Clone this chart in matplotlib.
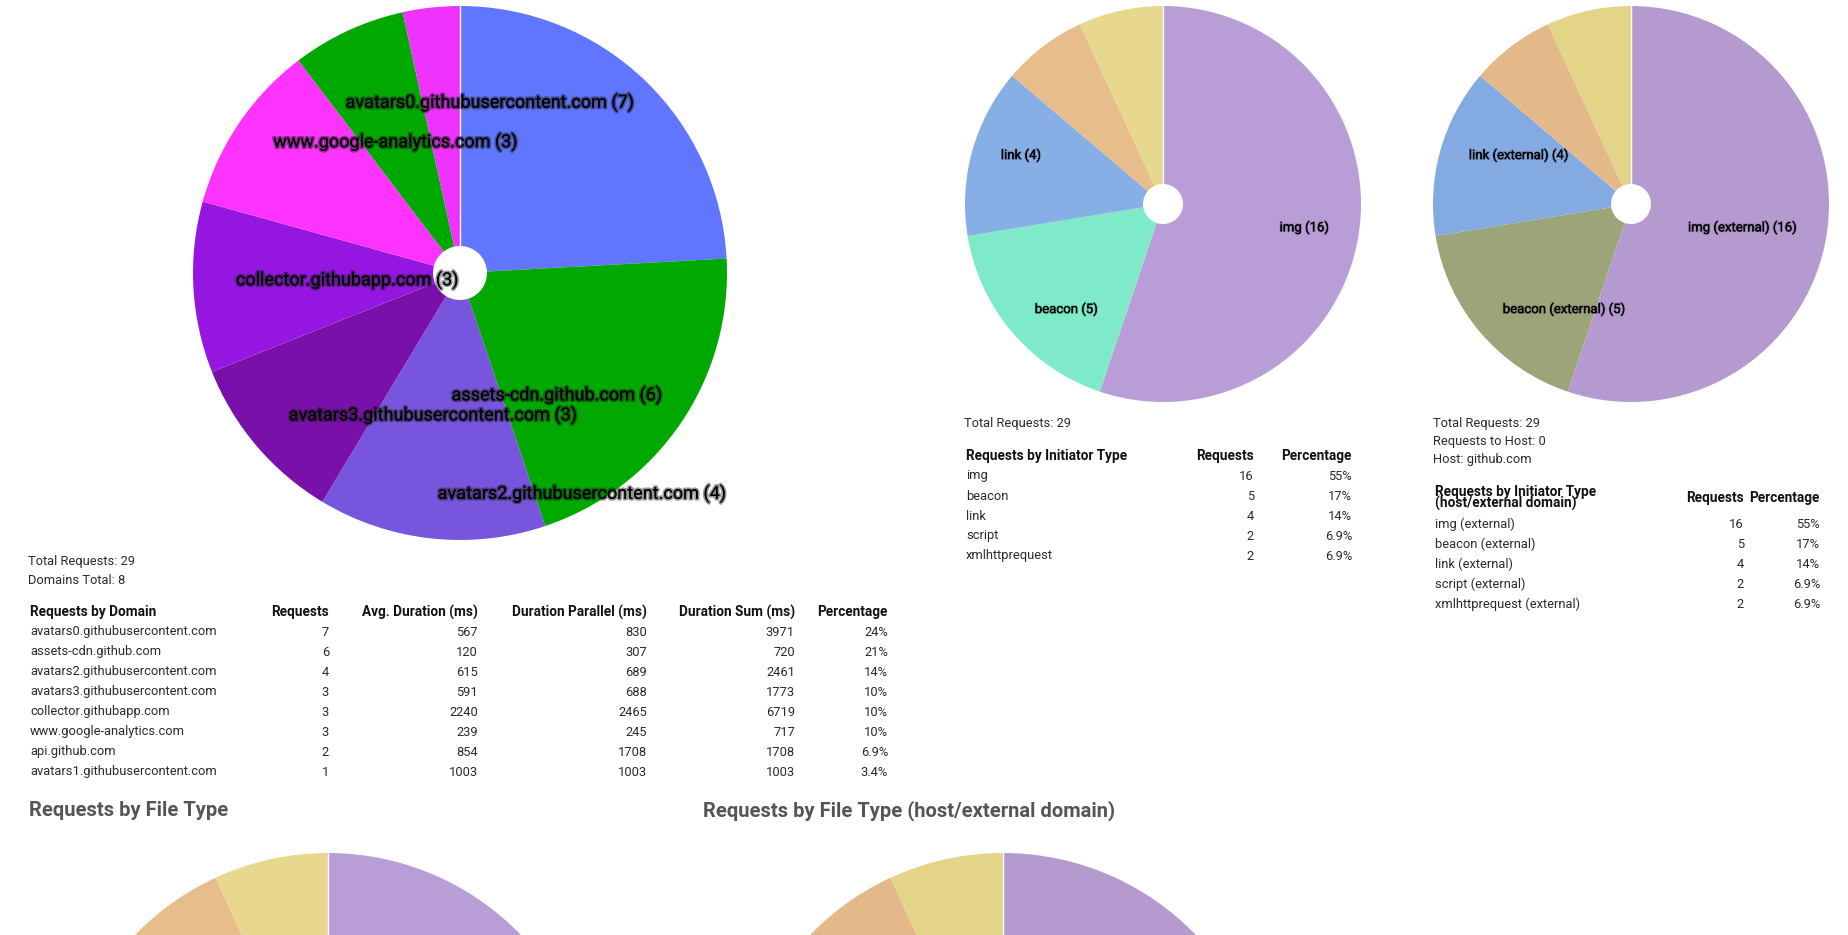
import matplotlib
matplotlib.use("Agg")
import matplotlib.pyplot as plt
import matplotlib.patheffects as pe

W, H = 1849, 935
plt.rcParams['font.family'] = ['Roboto', 'DejaVu Sans']

# requests by domain
domains = ["avatars0.githubusercontent.com", "assets-cdn.github.com",
           "avatars2.githubusercontent.com", "avatars3.githubusercontent.com",
           "collector.githubapp.com", "www.google-analytics.com",
           "api.github.com", "avatars1.githubusercontent.com"]
domain_requests = [7, 6, 4, 3, 3, 3, 2, 1]
domain_avg = [567, 120, 615, 591, 2240, 239, 854, 1003]
domain_parallel = [830, 307, 689, 688, 2465, 245, 1708, 1003]
domain_sum = [3971, 720, 2461, 1773, 6719, 717, 1708, 1003]
domain_colors = ["#6176ff", "#00a800", "#7755dd", "#7a10aa",
                 "#9516e0", "#ff33ff", "#00a800", "#ee33ff"]

# requests by initiator type
initiators = ["img", "beacon", "link", "script", "xmlhttprequest"]
initiator_requests = [16, 5, 4, 2, 2]
initiator_colors = ["#b99dd6", "#7feaca", "#88aee6", "#e7bd8c", "#e8d88e"]
initiators_ext = [s + " (external)" for s in initiators]
initiator_ext_colors = ["#b59ad0", "#9ca479", "#84aae2", "#e4b98a", "#e4d488"]

# requests by file type (only the top of these is visible)
filetypes = ["image", "other", "js", "css", "json"]
filetype_requests = [16, 5, 4, 2, 2]

total = sum(domain_requests)

# label centres of the big pie, in pie radii (moved apart like the original)
main_label_pos = [(0.112, 0.639), (0.363, -0.457), (0.457, -0.826), (-0.101, -0.532),
                  (-0.423, -0.026), (-0.243, 0.491), None, None]


def pct(n):
    p = n / total * 100
    return "%d%%" % round(p) if p >= 10 else "%.1f%%" % p


def pie_axes(fig, cx, cy, r):
    return fig.add_axes([(cx - r) / W, 1 - (cy + r) / H, 2 * r / W, 2 * r / H])


def draw_pie(ax, values, colors, hole, labels=None, fs=10):
    shown = None
    if labels is not None:
        shown = ["%s (%d)" % (l, v) if v / sum(values) >= 0.1 else ""
                 for l, v in zip(labels, values)]
    wedges, texts = ax.pie(values, colors=colors, startangle=90, counterclock=False,
                           radius=1, labels=shown, labeldistance=0.85,
                           wedgeprops=dict(width=1 - hole, linewidth=0),
                           textprops=dict(fontsize=fs, color="black"))
    for t in texts:
        # labels end at the anchor on the right side, start there on the left
        x, y = t.get_position()
        t.set_position((x, y + 0.018))
        t.set_ha("right" if x > 0 else "left")
        t.set_path_effects([pe.withStroke(linewidth=1.2, foreground=(0, 0, 0, 0.25))])
    ax.plot([0, 0], [hole, 1], color="white", lw=1)
    ax.set_xlim(-1, 1)
    ax.set_ylim(-1, 1)
    ax.axis("off")


fig = plt.figure(figsize=(W / 100, H / 100), dpi=100)
bg = fig.add_axes([0, 0, 1, 1])
bg.set_xlim(0, W)
bg.set_ylim(H, 0)
bg.axis("off")

# big domain pie
ax = pie_axes(fig, 460, 273, 267)
draw_pie(ax, domain_requests, domain_colors, 27 / 267)
for name, v, pos in zip(domains, domain_requests, main_label_pos):
    if pos is None:
        continue
    ax.text(pos[0], pos[1], "%s (%d)" % (name, v), ha="center", va="center",
            fontsize=13, color="black",
            path_effects=[pe.withStroke(linewidth=2.5, foreground=(0.1, 0.1, 0.1, 0.45))])

# initiator pies
ax = pie_axes(fig, 1163, 204, 198)
draw_pie(ax, initiator_requests, initiator_colors, 20 / 198, initiators, fs=9.5)
ax = pie_axes(fig, 1631, 204, 198)
draw_pie(ax, initiator_requests, initiator_ext_colors, 20 / 198, initiators_ext, fs=9.5)

# file type pies (cut off at the bottom)
ax = pie_axes(fig, 328, 1121, 268)
draw_pie(ax, filetype_requests, initiator_colors, 27 / 268)
ax = pie_axes(fig, 1003, 1121, 268)
draw_pie(ax, filetype_requests, initiator_ext_colors, 27 / 268)

body = dict(fontsize=9.3, color="#2a2a2a", va="center")
head = dict(fontsize=9.8, color="#111111", va="center", fontweight="bold")

# domain table
bg.text(28, 562, "Total Requests: %d" % total, **body)
bg.text(28, 580, "Domains Total: %d" % len(domains), **body)
cols = [329, 478, 647, 795, 888]
heads = ["Requests", "Avg. Duration (ms)", "Duration Parallel (ms)",
         "Duration Sum (ms)", "Percentage"]
bg.text(30, 612, "Requests by Domain", **head)
for x, h in zip(cols, heads):
    bg.text(x, 612, h, ha="right", **head)
for i, name in enumerate(domains):
    y = 632 + 20 * i
    bg.text(30, y, name, **body)
    row = [domain_requests[i], domain_avg[i], domain_parallel[i], domain_sum[i]]
    for x, v in zip(cols, row):
        bg.text(x, y, str(v), ha="right", **body)
    bg.text(cols[-1], y, pct(domain_requests[i]), ha="right", **body)

# initiator table
bg.text(964, 424, "Total Requests: %d" % total, **body)
bg.text(966, 456, "Requests by Initiator Type", **head)
bg.text(1254, 456, "Requests", ha="right", **head)
bg.text(1352, 456, "Percentage", ha="right", **head)
for i, name in enumerate(initiators):
    y = 476 + 20 * i
    bg.text(966, y, name, **body)
    bg.text(1254, y, str(initiator_requests[i]), ha="right", **body)
    bg.text(1352, y, pct(initiator_requests[i]), ha="right", **body)

# initiator table, host/external
bg.text(1433, 424, "Total Requests: %d" % total, **body)
bg.text(1433, 442, "Requests to Host: 0", **body)
bg.text(1433, 460, "Host: github.com", **body)
bg.text(1435, 492, "Requests by Initiator Type", **head)
bg.text(1435, 503, "(host/external domain)", **head)
bg.text(1744, 498, "Requests", ha="right", **head)
bg.text(1820, 498, "Percentage", ha="right", **head)
for i, name in enumerate(initiators_ext):
    y = 524 + 20 * i
    bg.text(1435, y, name, **body)
    bg.text(1744, y, str(initiator_requests[i]), ha="right", **body)
    bg.text(1820, y, pct(initiator_requests[i]), ha="right", **body)

# section titles
title = dict(fontsize=14.5, color="#555555", fontweight="bold", va="center")
bg.text(29, 811, "Requests by File Type", **title)
bg.text(703, 811, "Requests by File Type (host/external domain)", **title)

fig.savefig("out.png", dpi=100)
